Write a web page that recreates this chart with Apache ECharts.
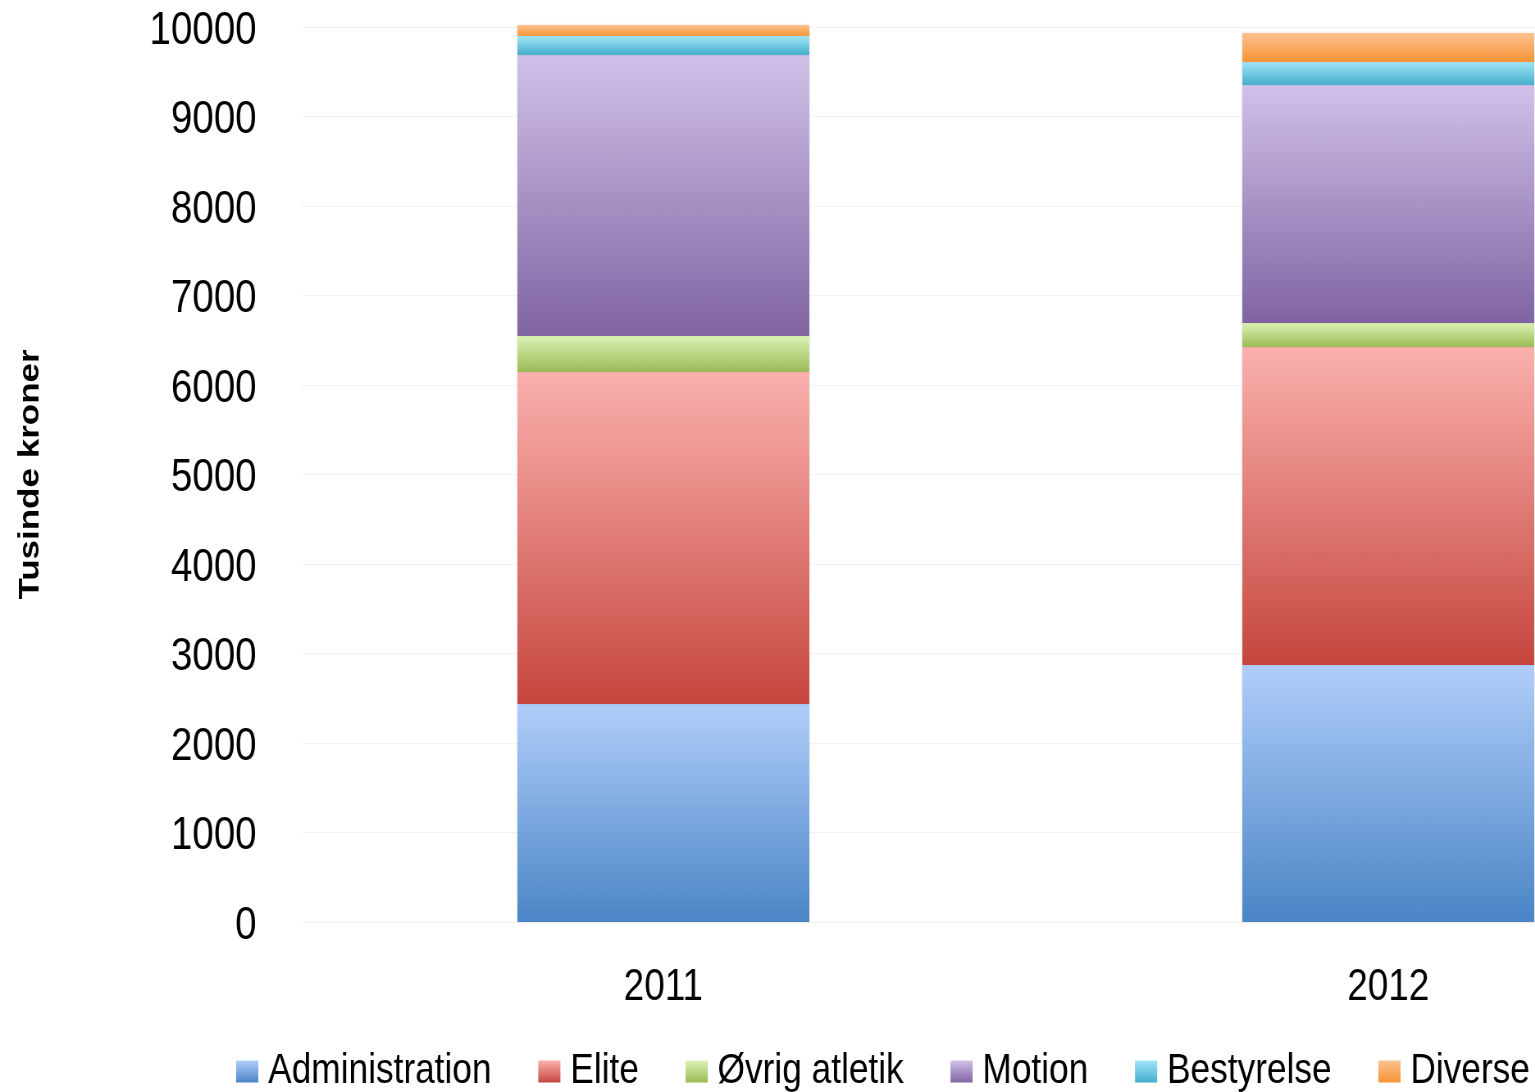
<!DOCTYPE html>
<html>
<head>
<meta charset="utf-8">
<script src="https://cdn.jsdelivr.net/npm/echarts@6/dist/echarts.min.js"></script>
<style>
html,body{margin:0;padding:0;background:#ffffff;overflow:hidden;width:1535px;height:1092px;}
#c{width:2200px;height:1092px;transform:scaleX(0.82);transform-origin:0 0;}
</style>
</head>
<body>
<div id="c"></div>
<script>
const categories = ['2011', '2012'];
const administration = [2436, 2872];
const elite = [3709, 3553];
const ovrig = [402, 268];
const motion = [3140, 2659];
const bestyrelse = [212, 257];
const diverse = [123, 324];
const yTicks = [0, 1000, 2000, 3000, 4000, 5000, 6000, 7000, 8000, 9000, 10000];

const FONT = '"Liberation Sans", Arial, sans-serif';

function grad(top, bottom) {
  return new echarts.graphic.LinearGradient(0, 0, 0, 1, [
    { offset: 0, color: top },
    { offset: 1, color: bottom }
  ]);
}

const seriesDefs = [
  { name: 'Administration', data: administration, c: grad('#b1cefa', '#4a85c6') },
  { name: 'Elite', data: elite, c: grad('#fbb1ae', '#c5463e') },
  { name: 'Øvrig atletik', data: ovrig, c: grad('#dcf3b4', '#9bba55') },
  { name: 'Motion', data: motion, c: grad('#d1c1e9', '#8064a2') },
  { name: 'Bestyrelse', data: bestyrelse, c: grad('#a2e5fa', '#44aecb') },
  { name: 'Diverse', data: diverse, c: grad('#fdc18f', '#f79436') }
];

const chart = echarts.init(document.getElementById('c'), null, { renderer: 'canvas' });
chart.setOption({
  animation: false,
  backgroundColor: '#ffffff',
  grid: { left: 367, top: 27, width: 1768, height: 895, containLabel: false },
  legend: {
    left: 283,
    top: 1045,
    itemWidth: 27,
    itemHeight: 22,
    itemGap: 57,
    icon: 'rect',
    data: seriesDefs.map(s => s.name),
    textStyle: { fontFamily: FONT, fontSize: 43, color: '#000', padding: [0, 0, 0, 7] }
  },
  xAxis: {
    type: 'category',
    data: categories,
    axisLine: { show: false },
    axisTick: { show: false },
    axisLabel: { fontFamily: FONT, fontSize: 45, color: '#000', margin: 43 }
  },
  yAxis: {
    type: 'value',
    min: 0,
    max: 10000,
    interval: 1000,
    name: 'Tusinde kroner',
    nameLocation: 'middle',
    nameGap: 312,
    nameRotate: 90,
    nameTextStyle: { fontFamily: FONT, fontSize: 35, fontWeight: 'bold', color: '#000' },
    axisLine: { show: false },
    axisTick: { show: false },
    splitLine: { show: true, lineStyle: { color: '#f3f3f3', width: 1 } },
    axisLabel: {
      margin: 54,
      formatter: v => yTicks.includes(v) ? '{t|' + v + '}' : '',
      rich: { t: { fontFamily: FONT, fontSize: 47, color: '#000', padding: [8, 0, 0, 0] } }
    }
  },
  series: seriesDefs.map(s => ({
    name: s.name,
    type: 'bar',
    stack: 'total',
    barWidth: 356,
    clip: false,
    data: s.data,
    itemStyle: { color: s.c, shadowColor: 'rgba(0,0,0,0.12)', shadowBlur: 3 }
  }))
});
</script>
</body>
</html>
